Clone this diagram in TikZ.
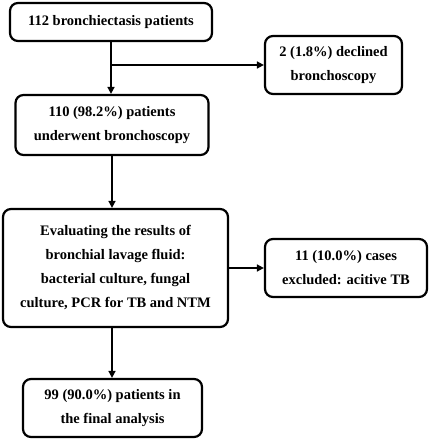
\documentclass[tikz,border=0pt]{standalone}
\usepackage{fontspec}
\setmainfont{Liberation Serif}
\usetikzlibrary{arrows.meta}
\begin{document}
\begin{tikzpicture}[x=1pt,y=-1pt,
  box/.style={draw, line width=2.2pt, rounded corners=8pt, align=center, inner sep=0pt,
    font=\fontsize{14.5}{24}\selectfont\bfseries},
  arr/.style={line width=1.6pt, -{Triangle[length=7pt,width=7pt]}}]
\useasboundingbox (0,0) rectangle (430,439);
\node[box, minimum width=202pt, minimum height=38pt] (b1) at (111,22) {112 bronchiectasis patients};
\node[box, minimum width=137pt, minimum height=58pt] (b2) at (333.5,65) {2 (1.8\%) declined\\bronchoscopy};
\node[box, minimum width=193pt, minimum height=60pt] (b3) at (112,125) {110 (98.2\%) patients\\underwent bronchoscopy};
\node[box, minimum width=225pt, minimum height=118pt] (b4) at (115.5,268) {Evaluating the results of\\bronchial lavage fluid:\\bacterial culture, fungal\\culture, PCR for TB and NTM};
\node[box, minimum width=162pt, minimum height=58pt] (b5) at (346,268) {11 (10.0\%) cases\\excluded: acitive TB};
\node[box, minimum width=179pt, minimum height=58pt] (b6) at (112.5,408) {99 (90.0\%) patients in\\the final analysis};
\coordinate (j1) at (b1.south |- b2.west);
\draw[arr] (b1.south) -- (b1.south |- b3.north);
\draw[arr] (j1) -- (b2.west);
\draw[arr] (b3.south) -- (b3.south |- b4.north);
\draw[arr] (b4.east) -- (b5.west);
\draw[arr] (b3.south |- b4.south) -- (b3.south |- b6.north);
\end{tikzpicture}
\end{document}
